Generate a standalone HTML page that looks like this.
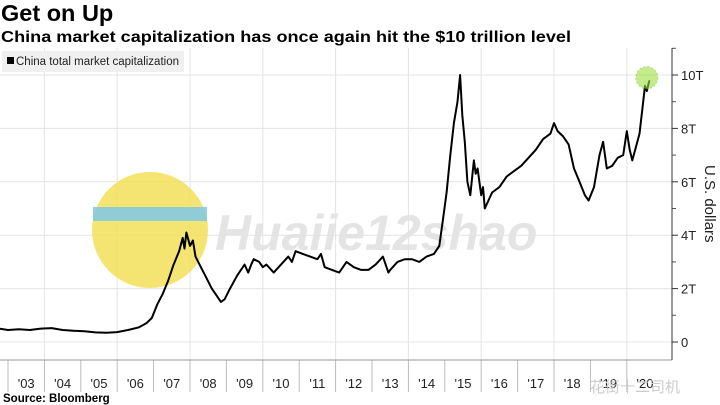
<!DOCTYPE html>
<html><head><meta charset="utf-8"><style>
body{margin:0;background:#fff;}
#wrap{position:relative;width:720px;height:405px;overflow:hidden;font-family:"Liberation Sans","DejaVu Sans",sans-serif;}
</style></head><body>
<div id="wrap">
<svg id="svg" width="720" height="405"></svg>
</div>
<script>
const years=['\'03','\'04','\'05','\'06','\'07','\'08','\'09','\'10','\'11','\'12','\'13','\'14','\'15','\'16','\'17','\'18','\'19','\'20'];
const yTicks=[0,2,4,6,8,10];
const yTickLabels=['0','2T','4T','6T','8T','10T'];
const dates=[2002.75,2003.0,2003.3,2003.6,2003.9,2004.2,2004.5,2004.8,2005.1,2005.4,2005.7,2006.0,2006.3,2006.6,2006.8,2006.95,2007.1,2007.25,2007.4,2007.55,2007.7,2007.8,2007.85,2007.9,2008.0,2008.08,2008.15,2008.3,2008.45,2008.6,2008.75,2008.85,2008.95,2009.1,2009.3,2009.5,2009.6,2009.68,2009.75,2009.9,2010.0,2010.1,2010.3,2010.5,2010.7,2010.8,2010.9,2011.1,2011.3,2011.5,2011.6,2011.7,2011.9,2012.1,2012.2,2012.3,2012.5,2012.7,2012.9,2013.1,2013.3,2013.45,2013.5,2013.7,2013.9,2014.1,2014.3,2014.5,2014.7,2014.85,2014.95,2015.05,2015.15,2015.25,2015.35,2015.42,2015.48,2015.55,2015.62,2015.7,2015.8,2015.85,2015.9,2016.0,2016.05,2016.1,2016.3,2016.5,2016.7,2016.9,2017.1,2017.3,2017.5,2017.7,2017.9,2018.0,2018.1,2018.25,2018.4,2018.55,2018.7,2018.85,2018.95,2019.1,2019.25,2019.35,2019.45,2019.6,2019.75,2019.9,2020.0,2020.08,2020.15,2020.25,2020.35,2020.45,2020.5,2020.55,2020.62];
const values=[0.5,0.45,0.48,0.45,0.5,0.52,0.45,0.42,0.4,0.36,0.35,0.37,0.45,0.55,0.7,0.9,1.4,1.8,2.3,2.9,3.4,3.9,3.5,4.1,3.6,3.8,3.2,2.8,2.4,2.0,1.7,1.5,1.6,2.0,2.5,2.9,2.6,2.9,3.1,3.0,2.8,2.9,2.6,2.9,3.2,3.0,3.4,3.3,3.2,3.1,3.3,2.8,2.7,2.6,2.8,3.0,2.8,2.7,2.7,2.9,3.2,2.6,2.7,3.0,3.1,3.1,3.0,3.2,3.3,3.6,4.6,5.6,7.0,8.2,9.0,10.0,8.5,7.5,6.0,5.5,6.8,6.3,6.5,5.5,5.8,5.0,5.6,5.8,6.2,6.4,6.6,6.9,7.2,7.6,7.8,8.2,7.9,7.7,7.4,6.5,6.0,5.5,5.3,5.8,7.0,7.5,6.5,6.6,6.9,7.0,7.9,7.2,6.8,7.3,7.8,9.0,9.6,9.4,9.8];
const NS='http://www.w3.org/2000/svg';
const svg=document.getElementById('svg');
const x=t=>8+(t-2003)*36.4;
const y=v=>342-v*26.7;
function el(tag,attrs,parent){const e=document.createElementNS(NS,tag);for(const k in attrs)e.setAttribute(k,attrs[k]);(parent||svg).appendChild(e);return e;}
yTicks.forEach((v,i)=>{
 const g=el('line',{x1:0,x2:672,y1:y(v),y2:y(v),stroke:'#e4e4e4','stroke-width':1});
 
 
 const tk=el('line',{x1:672,x2:678,y1:y(v),y2:y(v),stroke:'#333'});
 
 
 const tx=el('text',{x:681,y:y(v)+5,'font-size':13,fill:'#222'});
 tx.textContent=yTickLabels[i];
 
 
 const mt=el('line',{x1:672,x2:676,y1:y(v+1),y2:y(v+1),stroke:'#555'});
 
 
});
years.forEach((lab,i)=>{
 const xs=x(2003+i);
 if(i%2===1){const g=el('line',{x1:xs,x2:xs,y1:48,y2:360,stroke:'#e4e4e4'});
 
 }
 const tk=el('line',{x1:xs,x2:xs,y1:360,y2:392,stroke:'#bbb'});
 
 
 const tx=el('text',{x:xs+18.2,y:388,'font-size':13,fill:'#222','text-anchor':'middle'});
 tx.textContent=lab;
 
 
});
const ax=el('line',{x1:0,x2:672,y1:360,y2:360,stroke:'#999'});


const ay=el('line',{x1:672,x2:672,y1:48,y2:360,stroke:'#333'});


const wc=el('circle',{cx:150,cy:230,r:58,fill:'#f2e05a',opacity:0.85});


const wb=el('rect',{x:93,y:207,width:114,height:14,fill:'#7ec8e8',opacity:0.85});


const wt=el('text',{x:215,y:250,'font-size':50,'font-weight':'bold','font-style':'italic',fill:'#e2e2e2',opacity:0.9});
wt.textContent='Huaiie12shao';


const d=dates.map((t,i)=>(i?'L':'M')+x(t).toFixed(1)+','+y(values[i]).toFixed(1)).join('');
const p=el('path',{d:d,fill:'none',stroke:'#000','stroke-width':2,'stroke-linejoin':'round'});


const hc=el('circle',{cx:x(2020.55),cy:y(9.9),r:11,fill:'#9ee040',opacity:0.6,stroke:'#7cc020','stroke-dasharray':'2,2'});


const at=el('text',{x:0,y:0,'font-size':15,fill:'#222',transform:'translate(705,165) rotate(90)'});
at.textContent='U.S. dollars';


const t1=el('text',{x:1,y:21,'font-size':23.5,'font-weight':'bold',fill:'#000'});
t1.textContent='Get on Up';


const t2=el('text',{x:1,y:42,'font-size':15.5,'font-weight':'bold',fill:'#000',textLength:570,lengthAdjust:'spacingAndGlyphs'});
t2.textContent='China market capitalization has once again hit the $10 trillion level';


const lb=el('rect',{x:2,y:51,width:182,height:21,fill:'#f0f0f0'});


const ls=el('rect',{x:7,y:57,width:7,height:7,fill:'#000'});


const lt=el('text',{x:16,y:65,'font-size':11.5,fill:'#222'});
lt.textContent='China total market capitalization';


const src=el('text',{x:3,y:402,'font-size':11.5,'font-weight':'bold',fill:'#000'});
src.textContent='Source: Bloomberg';


const cw=el('text',{x:590,y:392,'font-size':15,fill:'#ccc','font-family':'"Noto Sans CJK SC",sans-serif'});
cw.textContent='花街十二司机';


</script>
</body></html>
